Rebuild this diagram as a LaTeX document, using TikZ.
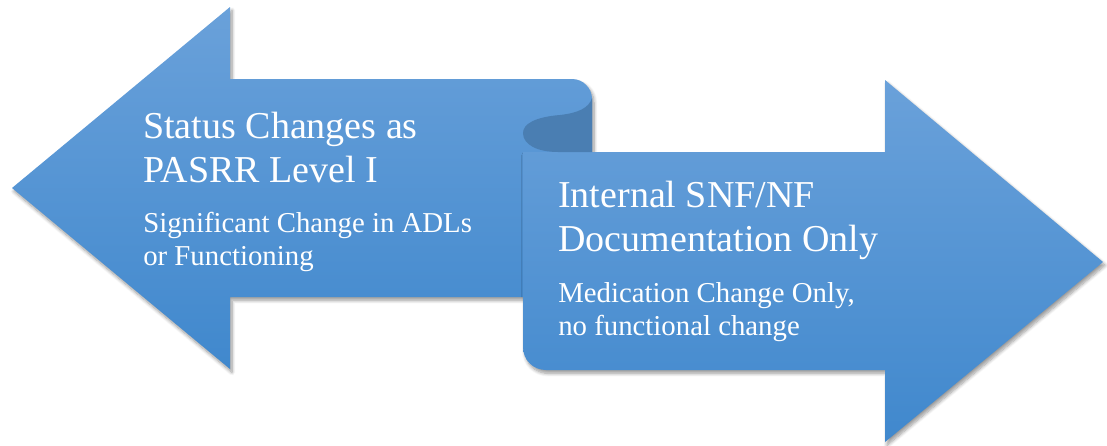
\documentclass[tikz,border=0pt]{standalone}
\usepackage{fontspec}
\setmainfont{Liberation Serif}
\usetikzlibrary{shadows.blur}

\definecolor{arrtop}{RGB}{106,161,218}
\definecolor{arrbot}{RGB}{64,136,205}
\definecolor{curldark}{RGB}{74,126,178}

\tikzset{
  bigarrow/.style={top color=arrtop, bottom color=arrbot, draw=none,
    blur shadow={shadow blur steps=8, shadow xshift=1.5pt, shadow yshift=-2.5pt,
      shadow blur radius=2.5pt, shadow opacity=40}},
  titletext/.style={anchor=north west, inner sep=0pt, align=left, text=white,
    font=\fontsize{28.5}{33}\selectfont},
  subtext/.style={anchor=north west, inner sep=0pt, align=left, text=white,
    font=\fontsize{21.6}{24.8}\selectfont}
}

\begin{document}
\begin{tikzpicture}[x=0.75pt,y=0.75pt,yscale=-1,xscale=1]
\useasboundingbox (0,0) rectangle (1107,446);

%Shape: Left Arrow [id:leftarrow]
\path [bigarrow] (12,188) -- (230,7) -- (230,79) -- (572,79) .. controls (583,79) and (592,88) .. (592,99) -- (592,297) -- (230,297) -- (230,369) -- cycle ;
%Shape: Right Arrow [id:rightarrow]
\path [bigarrow] (523,152) -- (885,152) -- (885,80) -- (1103,262) -- (885,442) -- (885,370) -- (546,370) .. controls (533,370) and (523,360) .. (523,347) -- cycle ;
%Shape: Curl [id:curl]
\fill [curldark] (592,98) .. controls (589,108) and (578,113) .. (560,115) .. controls (535,117) and (523,124) .. (523,133) .. controls (523,145) and (538,152) .. (558,152) -- (592,152) -- cycle ;

% Text Node
\node (statustitle) [titletext] at (143,112) {Status Changes as\\PASRR Level I};
% Text Node
\node (statussub) [subtext] at (143,212) {Significant Change in ADLs\\or Functioning};
% Text Node
\node (internaltitle) [titletext] at (558,181) {Internal SNF/NF\\Documentation Only};
% Text Node
\node (internalsub) [subtext] at (558,282) {Medication Change Only,\\no functional change};

\end{tikzpicture}
\end{document}
